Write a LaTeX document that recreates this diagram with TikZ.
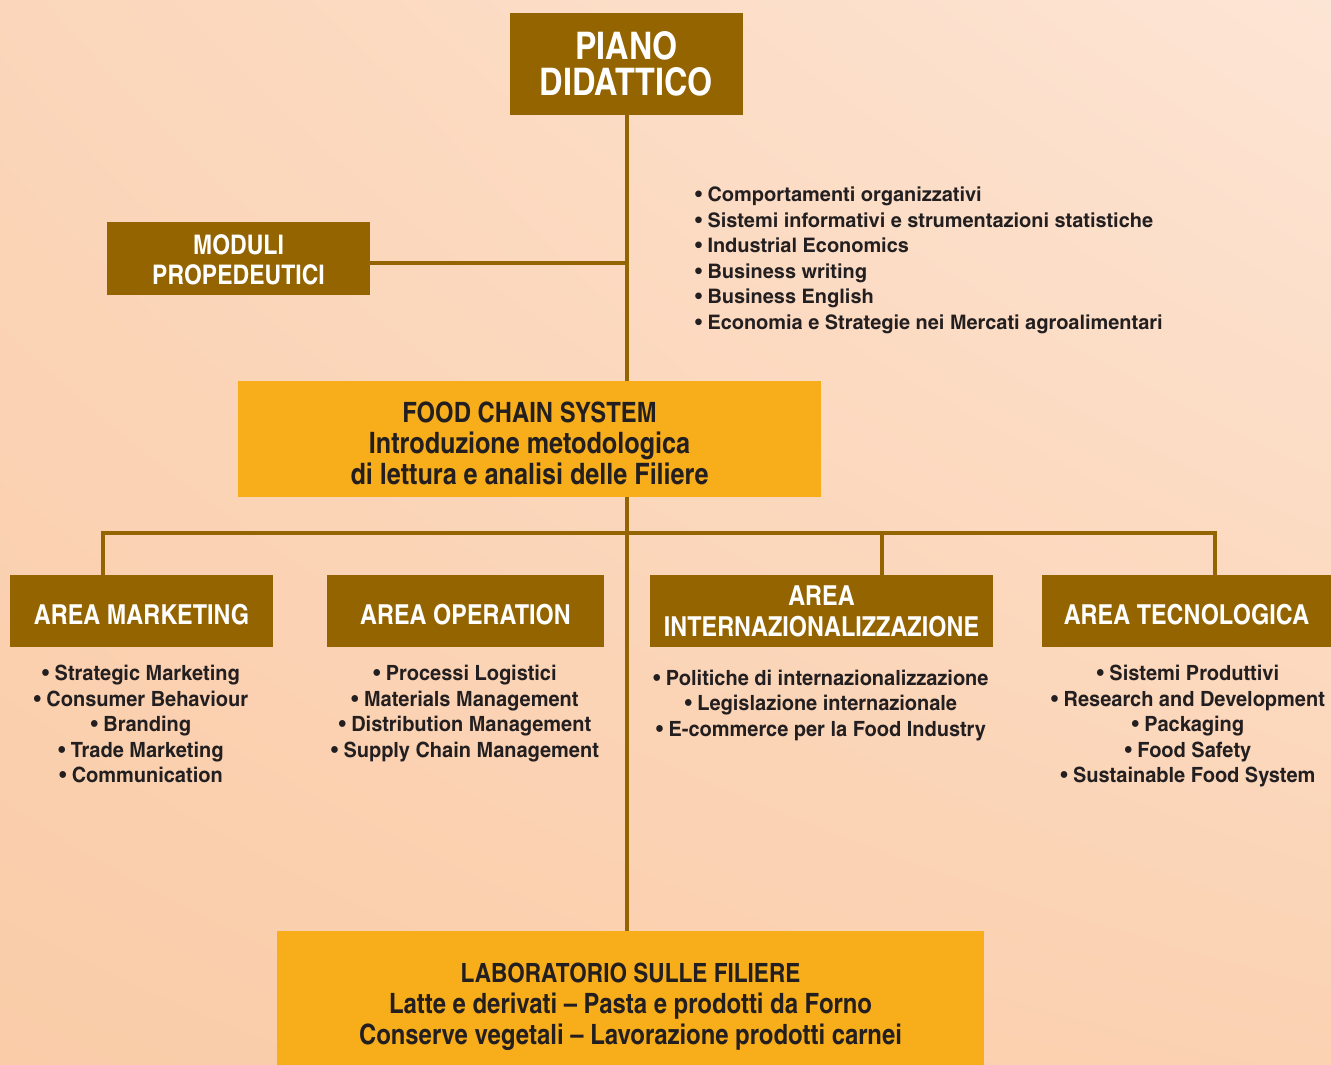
\documentclass[tikz,border=0pt]{standalone}
\usepackage{fontspec}
\setmainfont{texgyreheroscn}[Extension=.otf, UprightFont=*-regular, BoldFont=*-bold, FakeStretch=1.04]
\newfontfamily\toplistfont{texgyreheroscn-bold}[Extension=.otf, FakeStretch=1.215]
\newfontfamily\arealistfont{texgyreheroscn-bold}[Extension=.otf, FakeStretch=1.16]
\usetikzlibrary{shadings}
\definecolor{brn}{RGB}{147,100,0}
\definecolor{ora}{RGB}{248,174,26}
\definecolor{ink}{RGB}{35,31,32}
\definecolor{bgUL}{RGB}{251,214,186}
\definecolor{bgUR}{RGB}{253,229,213}
\definecolor{bgLL}{RGB}{250,204,168}
\definecolor{bgLR}{RGB}{251,210,178}
\newcommand\lift[1]{\rule{0pt}{#1}}
\begin{document}
\begin{tikzpicture}[x=1pt,y=-1pt,
  every node/.style={inner sep=0pt, outer sep=0pt},
  brownbox/.style={fill=brn, text=white, align=center, font=\bfseries},
  orangebox/.style={fill=ora, text=ink, align=center, font=\bfseries},
  areabox/.style={brownbox, minimum height=72, font=\bfseries\fontsize{27.5}{31}\selectfont},
  listtext/.style={text=ink, font=\arealistfont\fontsize{21}{25.6}\selectfont, align=center, anchor=north},
  wire/.style={draw=brn, line width=3.5pt}]
\useasboundingbox (0,0) rectangle (1331,1065);
\begin{scope}[y=1pt]
\shade[upper left=bgUL, upper right=bgUR, lower left=bgLL, lower right=bgLR] (0,-1065) rectangle (1331,0);
\end{scope}

% connector points
\coordinate (t0) at (627,115);
\coordinate (jm) at (627,263);
\coordinate (b1) at (103,533);
\coordinate (b3) at (882,533);
\coordinate (b4) at (1215,533);

% boxes
\node[brownbox, minimum width=233, minimum height=102, font=\bfseries\fontsize{38}{36}\selectfont] (piano) at (626.5,64) {PIANO\\DIDATTICO};
\node[brownbox, minimum width=263, minimum height=73, font=\bfseries\fontsize{27}{30}\selectfont] (moduli) at (238.5,258.5) {\lift{22pt}MODULI\\PROPEDEUTICI};
\node[text=ink, font=\toplistfont\fontsize{20}{25.6}\selectfont, align=left, anchor=north west] (toplist) at (695,186.7) {• Comportamenti organizzativi\\• Sistemi informativi e strumentazioni statistiche\\• Industrial Economics\\• Business writing\\• Business English\\• Economia e Strategie nei Mercati agroalimentari};
\node[orangebox, minimum width=583, minimum height=116, font=\bfseries\fontsize{29.5}{31}\selectfont] (food) at (529.5,439) {\lift{29pt}{\fontsize{28}{31}\selectfont FOOD CHAIN SYSTEM}\\Introduzione metodologica\\di lettura e analisi delle Filiere};

\node[areabox, minimum width=263] (mk) at (141.5,611) {\lift{27pt}AREA MARKETING};
\node[areabox, minimum width=277] (op) at (465.5,611) {\lift{27pt}AREA OPERATION};
\node[areabox, minimum width=343] (in) at (821.5,611) {AREA\\INTERNAZIONALIZZAZIONE};
\node[areabox, minimum width=289] (te) at (1186.5,611) {\lift{27pt}AREA TECNOLOGICA};

\node[listtext] (mklist) at (141,665) {• Strategic Marketing\\• Consumer Behaviour\\• Branding\\• Trade Marketing\\• Communication};
\node[listtext] (oplist) at (465,665) {• Processi Logistici\\• Materials Management\\• Distribution Management\\• Supply Chain Management};
\node[listtext] (inlist) at (821,670) {• Politiche di internazionalizzazione\\• Legislazione internazionale\\• E-commerce per la Food Industry};
\node[listtext] (telist) at (1188,665) {• Sistemi Produttivi\\• Research and Development\\• Packaging\\• Food Safety\\• Sustainable Food System};

\node[orangebox, minimum width=707, minimum height=152, font=\bfseries\fontsize{28}{31}\selectfont] (lab) at (630.5,1007) {{\fontsize{26.5}{31}\selectfont LABORATORIO SULLE FILIERE}\\Latte e derivati – Pasta e prodotti da Forno\\Conserve vegetali – Lavorazione prodotti carnei};

% connectors
\draw[wire] (piano.south -| t0) -- (food.north -| t0);
\draw[wire] (food.south -| t0) -- (lab.north -| t0);
\draw[wire] (moduli.east |- jm) -- (jm);
\draw[wire] (b1 |- mk.north) -- (b1) -- (b4) -- (b4 |- te.north);
\draw[wire] (b3) -- (b3 |- in.north);
\end{tikzpicture}
\end{document}
